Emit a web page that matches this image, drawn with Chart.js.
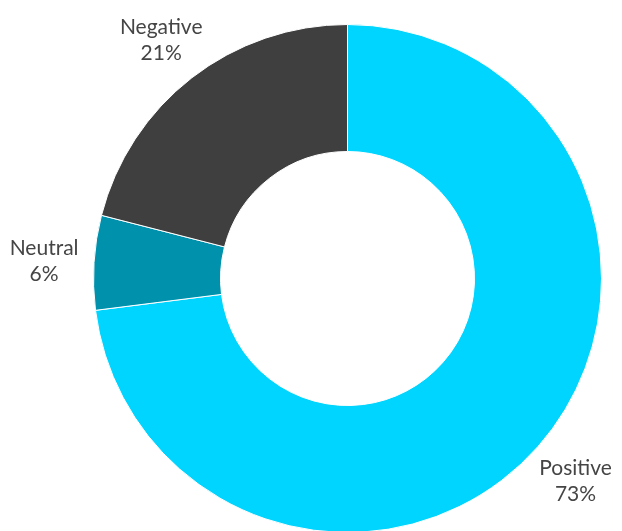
<!DOCTYPE html>
<html>
<head>
<meta charset="utf-8">
<script src="https://cdn.jsdelivr.net/npm/chart.js@4/dist/chart.umd.min.js"></script>
<style>
  html, body { margin: 0; padding: 0; background: #fff; overflow: hidden; }
  #wrap { position: relative; width: 622px; height: 560px; }
</style>
</head>
<body>
<div id="wrap"><canvas id="sentimentChart"></canvas></div>
<script>
// sentiment split, percent
const labels = ["Positive", "Neutral", "Negative"];
const shares = [73, 6, 21];
const colors = ["#00d5ff", "#0092ad", "#3f3f3f"];

// draw "Label / NN%" outside each slice, on its middle angle
const outsideLabels = {
  id: "outsideLabels",
  afterDatasetsDraw(chart) {
    const ctx = chart.ctx;
    const meta = chart.getDatasetMeta(0);
    ctx.save();
    ctx.fillStyle = "#454545";
    ctx.font = "21px Lato";
    ctx.textAlign = "center";
    ctx.textBaseline = "middle";
    meta.data.forEach((arc, i) => {
      const p = arc.getProps(["x", "y", "startAngle", "endAngle", "outerRadius"], true);
      const mid = (p.startAngle + p.endAngle) / 2;
      const r = p.outerRadius + 50;
      const x = p.x + Math.cos(mid) * r;
      const y = p.y + Math.sin(mid) * r;
      ctx.fillText(labels[i], x, y - 11);
      ctx.fillText(shares[i] + "%", x, y + 15);
    });
    ctx.restore();
  }
};

new Chart(document.getElementById("sentimentChart"), {
  type: "doughnut",
  data: {
    labels: labels,
    datasets: [{
      data: shares,
      backgroundColor: colors,
      borderColor: "#ffffff",
      borderWidth: 1,
      hoverOffset: 0
    }]
  },
  options: {
    responsive: true,
    maintainAspectRatio: false,
    animation: false,
    cutout: "50%",
    layout: { padding: { left: 93, right: 20, top: 24, bottom: 27 } },
    plugins: {
      legend: { display: false },
      tooltip: { enabled: false }
    }
  },
  plugins: [outsideLabels]
});
</script>
</body>
</html>
